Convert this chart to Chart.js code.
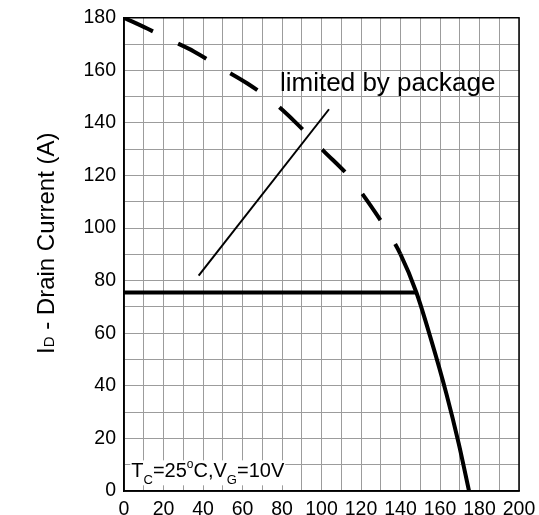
<!DOCTYPE html>
<html lang="en">
<head>
  <meta charset="UTF-8">
  <title>Drain Current vs Case Temperature</title>
  <script src="https://cdn.jsdelivr.net/npm/chart.js"></script>
  <style>
    body {
      margin: 0;
      background: #fff;
    }
    canvas {
      display: block;
    }
  </style>
</head>
<body>
  <canvas id="myChart" width="539" height="515"></canvas>

  <script>
    // silicon limit curve, ID (A) against TC (°C)
    const tempC = [0, 12, 21.6, 35.6, 49, 62.5, 74.8, 86.2, 101, 114.7, 122.3, 132.4, 139.9, 148, 155.6, 163.2, 169.5, 174.7];
    const drainA = [180, 175.8, 172.2, 167.1, 161, 155, 148.4, 140.7, 129.4, 119, 111.3, 100, 90.2, 75.6, 57.3, 37.1, 18, 0];

    // package limit
    const packageX = [0, 147.7];
    const packageY = [75.5, 75.5];

    // pointer from the label down to the package line
    const pointerX = [37.8, 103.8];
    const pointerY = [81.9, 145.2];

    const xTicks = [0, 20, 40, 60, 80, 100, 120, 140, 160, 180, 200];
    const yTicks = [0, 20, 40, 60, 80, 100, 120, 140, 160, 180];

    const FONT = 'Arial, "Liberation Sans", sans-serif';

    function toPoints(xs, ys) {
      return xs.map((x, i) => ({ x: x, y: ys[i] }));
    }

    // draws a run of text pieces with their own size and vertical shift
    function drawPieces(ctx, pieces, x, y) {
      pieces.forEach(p => {
        ctx.font = p.size + 'px ' + FONT;
        ctx.fillText(p.text, x, y + (p.dy || 0));
        x += ctx.measureText(p.text).width;
      });
      return x;
    }

    function piecesWidth(ctx, pieces) {
      let w = 0;
      pieces.forEach(p => {
        ctx.font = p.size + 'px ' + FONT;
        w += ctx.measureText(p.text).width;
      });
      return w;
    }

    const framePlugin = {
      id: 'frame',
      beforeDatasetsDraw(chart) {
        const { ctx, chartArea: a } = chart;
        ctx.save();
        ctx.strokeStyle = '#000';
        ctx.lineWidth = 1.5;
        ctx.strokeRect(a.left, a.top, a.right - a.left, a.bottom - a.top);
        ctx.restore();
      },
      afterDatasetsDraw(chart) {
        const { ctx } = chart;
        const xs = chart.scales.x;
        const ys = chart.scales.y;
        ctx.save();
        ctx.fillStyle = '#000';
        ctx.textBaseline = 'alphabetic';

        // "limited by package"
        ctx.font = '26px ' + FONT;
        ctx.fillText('limited by package', xs.getPixelForValue(79), ys.getPixelForValue(152));

        // test condition, on a white box over the grid
        const cond = [
          { text: 'T', size: 20 },
          { text: 'C', size: 13, dy: 7 },
          { text: '=25', size: 20 },
          { text: 'o', size: 12, dy: -9 },
          { text: 'C,V', size: 20 },
          { text: 'G', size: 13, dy: 7 },
          { text: '=10V', size: 20 }
        ];
        const cx = xs.getPixelForValue(3.7);
        const cy = ys.getPixelForValue(5.2);
        const cw = piecesWidth(ctx, cond);
        ctx.fillStyle = '#fff';
        ctx.fillRect(cx - 1, cy - 17, cw + 2, 25);
        ctx.fillStyle = '#000';
        drawPieces(ctx, cond, cx, cy);

        // y axis title with subscript D
        const title = [
          { text: 'I', size: 24 },
          { text: 'D', size: 15, dy: 0 },
          { text: ' - Drain Current (A)', size: 24 }
        ];
        ctx.translate(54, 354);
        ctx.rotate(-Math.PI / 2);
        drawPieces(ctx, title, 0, 0);
        ctx.restore();
      }
    };

    const ctx = document.getElementById('myChart').getContext('2d');

    const chart = new Chart(ctx, {
      type: 'scatter',
      data: {
        datasets: [
          {
            data: toPoints(tempC, drainA),
            showLine: true,
            borderColor: '#000',
            borderWidth: 4,
            pointRadius: 0,
            cubicInterpolationMode: 'monotone',
            borderCapStyle: 'butt',
            segment: {
              borderDash: c => (c.p0.parsed.x < 139 ? [32, 28] : undefined)
            }
          },
          {
            data: toPoints(packageX, packageY),
            showLine: true,
            borderColor: '#000',
            borderWidth: 4,
            pointRadius: 0
          },
          {
            data: toPoints(pointerX, pointerY),
            showLine: true,
            borderColor: '#000',
            borderWidth: 2,
            pointRadius: 0
          }
        ]
      },
      options: {
        responsive: false,
        animation: false,
        layout: {
          padding: { top: 16, right: 20, left: 0, bottom: 0 }
        },
        plugins: {
          legend: { display: false },
          tooltip: { enabled: false }
        },
        scales: {
          x: {
            type: 'linear',
            min: 0,
            max: 200,
            // fixed band under the plot; the layout padding keeps "200" inside
            afterFit: s => {
              s.height = 24;
              s.paddingLeft = 0;
              s.paddingRight = 0;
            },
            ticks: {
              stepSize: 10,
              autoSkip: false,
              maxRotation: 0,
              padding: 9,
              color: '#000',
              font: { family: FONT, size: 19.5, lineHeight: 1 },
              callback: v => (xTicks.includes(v) ? v : '')
            },
            grid: { color: '#9c9c9c', lineWidth: 1, drawTicks: false },
            border: { color: '#000', width: 1.5 }
          },
          y: {
            min: 0,
            max: 180,
            afterFit: s => { s.width = 124; },
            ticks: {
              stepSize: 10,
              autoSkip: false,
              padding: 8,
              color: '#000',
              font: { family: FONT, size: 19.5, lineHeight: 1 },
              callback: v => (yTicks.includes(v) ? v : '')
            },
            grid: { color: '#9c9c9c', lineWidth: 1, drawTicks: false },
            border: { color: '#000', width: 1.5 }
          }
        }
      },
      plugins: [framePlugin]
    });
  </script>
</body>
</html>
